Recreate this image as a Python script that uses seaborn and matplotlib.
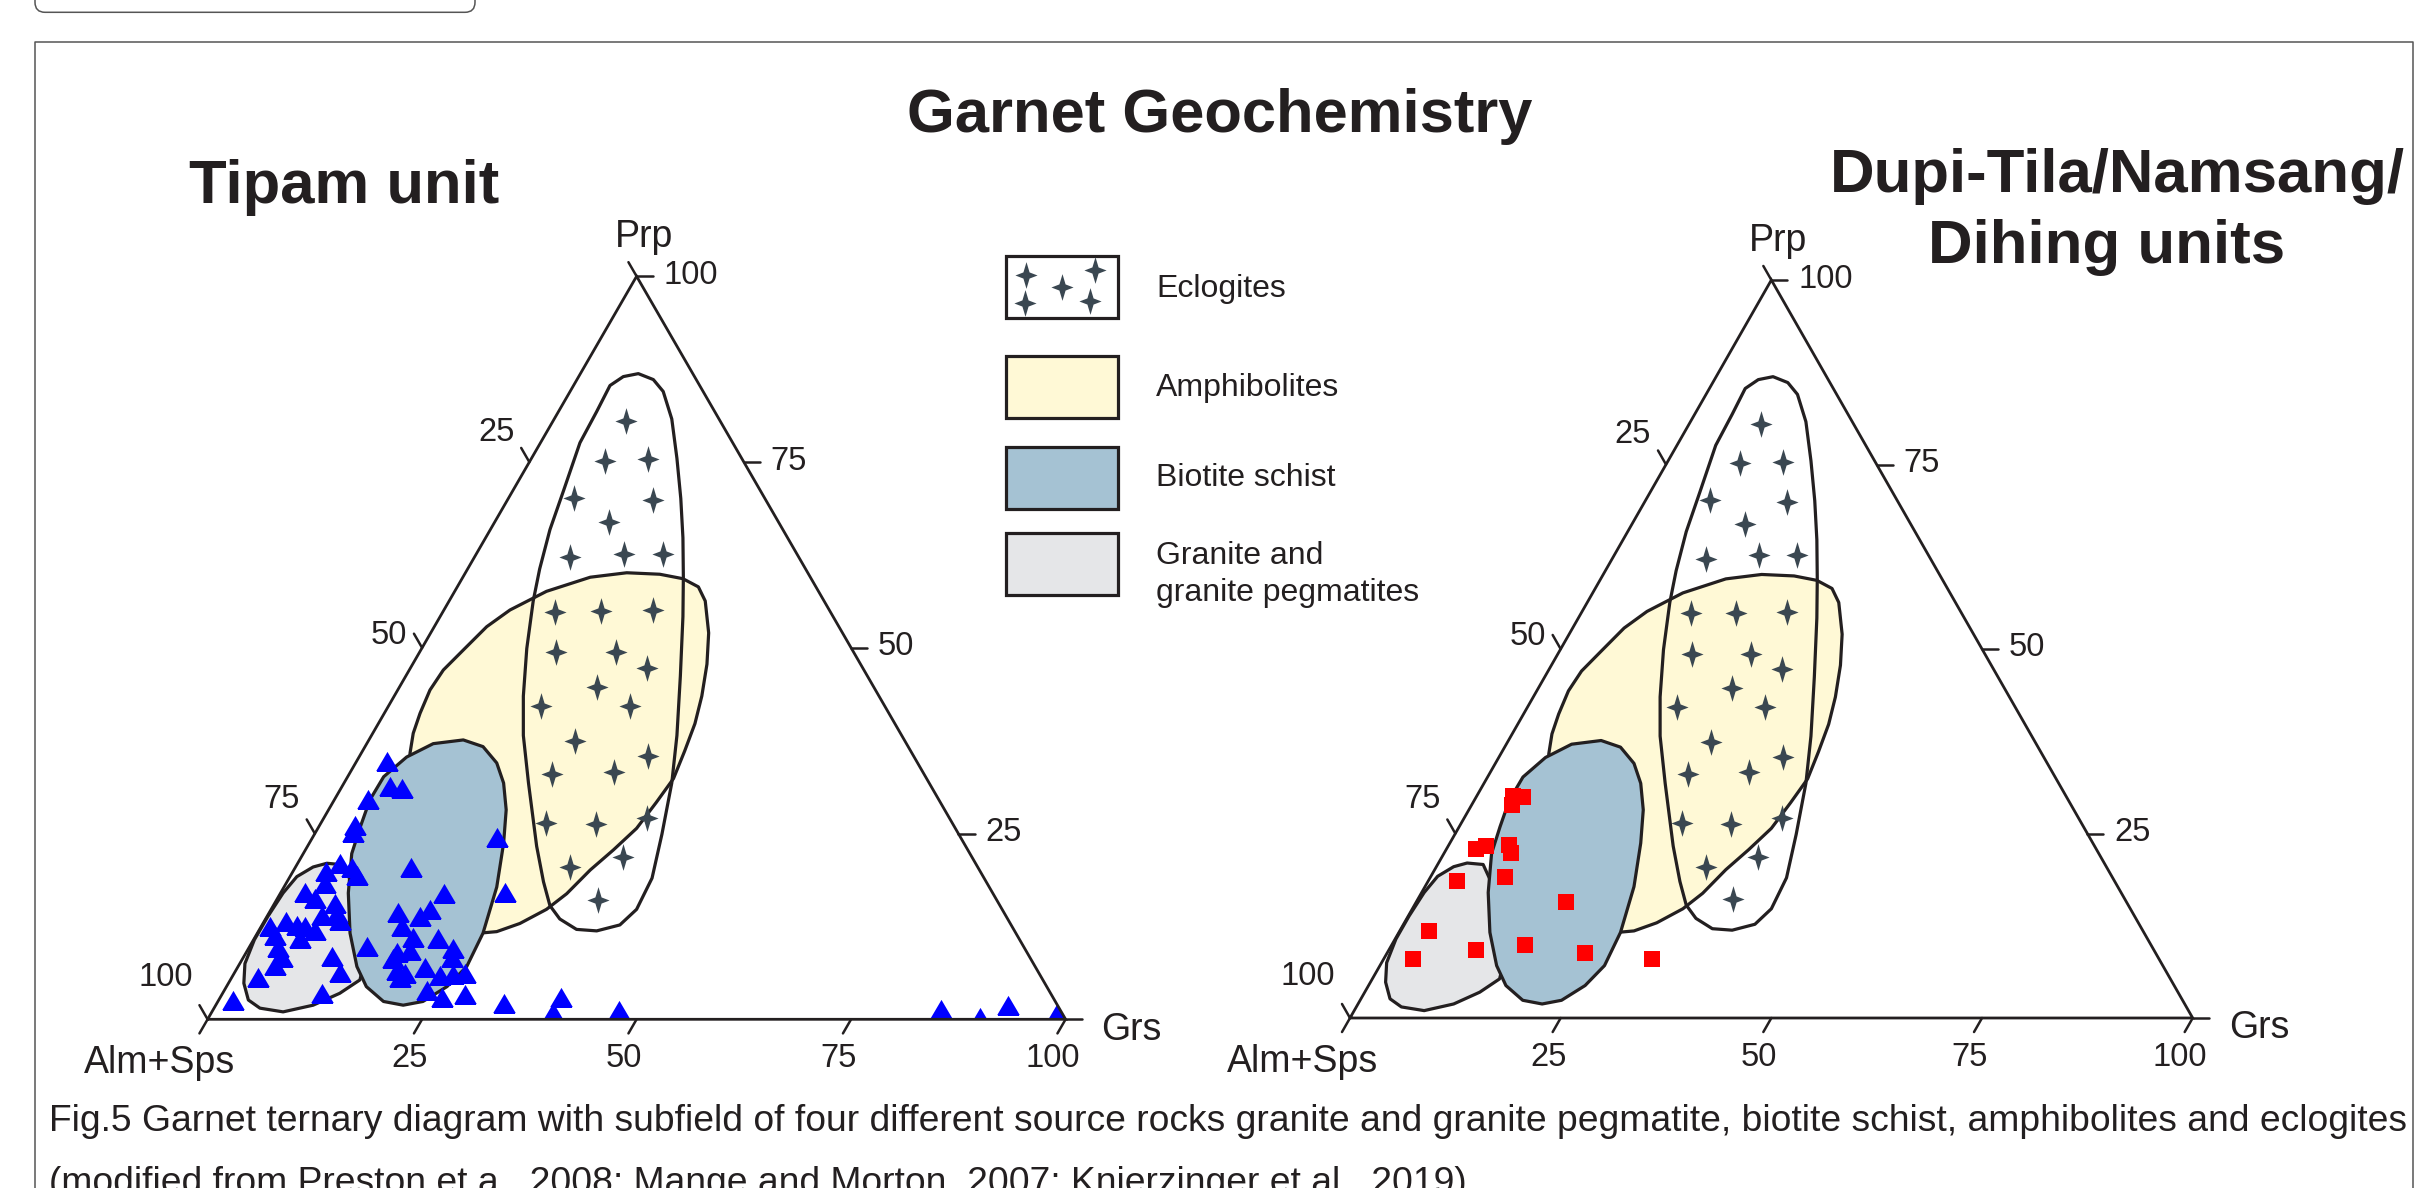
import numpy as np
import pandas as pd
import matplotlib
matplotlib.use("Agg")
import matplotlib.pyplot as plt
import seaborn as sns
from matplotlib.path import Path
from matplotlib.patches import Polygon, Rectangle, FancyBboxPatch

# ---------------- data: ternary compositions in % (Grs, Prp); Alm+Sps = 100 - Grs - Prp ----------------
granite_grs = [3.4, 5.4, 8.1, 12.15, 14.6, 15.1, 13.65, 11.35, 8.3, 5.35, 3.45, 1.8, 0.6, 0.1, 0.1, 0.3, 0.8, 2.05]
granite_prp = [21.0, 20.8, 17.8, 11.6, 7.1, 5.3, 3.5, 1.9, 1.0, 1.5, 2.6, 4.85, 7.5, 10.7, 13.8, 17.0, 19.2, 20.5]

biotite_grs = [11.0, 13.75, 16.45, 18.6, 20.7, 22.65, 24.8, 26.3, 26.65, 25.7, 23.9, 21.85, 19.3, 16.3, 13.85,
               10.8, 7.9, 5.65, 4.85, 4.15, 4.2, 5.55, 7.75]
biotite_prp = [37.6, 36.7, 34.5, 31.8, 28.2, 23.7, 17.8, 11.6, 7.1, 4.4, 2.4, 1.9, 2.4, 4.4, 7.1,
               11.6, 17.0, 22.3, 25.9, 29.5, 32.65, 35.3, 37.1]

amphib_grs = [10.7, 14.85, 18.8, 22.75, 25.75, 28.1, 29.85, 32.4, 34.3, 35.85, 36.9, 37.55, 38.1, 37.7, 37.15,
              35.9, 34.55, 33.4, 32.1, 29.95, 27.8, 25.95, 22.5, 16.6, 10.8, 6.81, 5.69, 4.72, 4.17, 3.76,
              3.97, 4.95, 6.11, 7.7]
amphib_prp = [57.6, 59.5, 60.1, 59.9, 59.3, 58.2, 56.3, 52.0, 47.8, 43.5, 39.8, 36.1, 32.4, 29.2, 25.7,
              22.8, 20.1, 16.9, 14.8, 12.9, 11.8, 11.6, 12.7, 18.7, 26.8, 33.55, 35.8, 38.49, 41.18, 44.32,
              47.01, 49.7, 52.84, 55.09]

eclog_grs = [6.75, 8.9, 10.85, 13.7, 16.95, 20.1, 23.0, 25.7, 28.3, 32.0, 35.6, 38.2, 40.5, 42.3, 42.6, 41.7,
             39.4, 36.95, 34.3, 32.25, 29.9, 26.7, 21.5, 17.7, 15.05, 12.25, 9.8, 8.4, 6.95, 5.9, 4.6, 4.45,
             4.25, 5.2]
eclog_prp = [86.9, 86.1, 84.5, 80.8, 75.5, 70.1, 64.8, 59.5, 54.2, 46.2, 38.2, 31.8, 24.9, 19.0, 14.8, 12.7,
             11.9, 12.1, 13.5, 15.3, 18.5, 23.3, 31.8, 38.2, 43.5, 49.9, 56.3, 60.6, 65.9, 71.2, 77.6, 81.8,
             85.3, 86.5]

# eclogite field pattern (star symbols)
star_grs = [8.48, 8.72, 13.68, 7.67, 16.94, 13.35, 11.11, 17.18, 21.69, 13.08, 18.36, 24.34, 15.92, 22.87,
            27.62, 22.97, 17.72, 28.13, 24.15, 33.67, 23.58, 30.67, 26.24, 32.15, 37.68, 32.0, 37.51, 37.41]
star_prp = [80.5, 75.2, 75.36, 70.13, 69.88, 66.94, 62.26, 62.69, 62.69, 54.82, 54.91, 55.07, 49.38, 49.38,
            47.25, 44.75, 42.19, 42.19, 37.42, 35.38, 33.04, 33.31, 26.39, 26.23, 27.13, 20.48, 21.87, 16.12]

# Tipam unit samples (blue triangles)
tipam_grs = [3.6, 5.56, 7.14, 3.88, 4.1, 4.35, 21.4, 13.5, 4.93, 6.55, 7.68, 3.8, 4.53, 2.75, 4.37, 26.06,
             19.09, 7.05, 7.9, 6.3, 8.73, 14.98, 18.52, 17.81, 1.02, 2.54, 4.03, 5.1, 6.52, 16.37, 2.18, 5.32,
             18.42, 21.39, 13.61, 23.86, 3.35, 17.49, 18.92, 4.43, 10.2, 17.54, 24.24, 4.21, 12.23, 21.8,
             18.72, 19.91, 24.11, 25.59, 26.86, 2.97, 19.55, 23.57, 25.76, 28.3, 11.51, 1.7, 33.44, 39.68,
             39.71, 47.35, 84.84, 89.9, 92.28, 98.65]
tipam_prp = [34.7, 31.4, 31.1, 29.7, 26.15, 25.2, 24.6, 20.5, 21.0, 20.5, 19.4, 19.9, 18.3, 17.2, 16.3, 17.2,
             17.0, 15.6, 14.3, 14.0, 13.4, 14.5, 14.8, 13.9, 12.5, 13.2, 12.7, 12.5, 12.0, 12.5, 11.35, 10.9,
             11.1, 11.0, 9.87, 9.56, 9.77, 9.1, 9.33, 8.43, 8.52, 8.21, 8.43, 7.31, 6.41, 7.08,
             6.64, 6.19, 5.96, 6.1, 6.27, 5.73, 5.73, 3.94, 3.04, 3.41, 3.58, 2.6, 2.13, 2.97,
             1.02, 1.25, 1.35, 0.3, 1.92, 0.81]

# Dupi-Tila / Namsang / Dihing samples (red squares)
dupi_grs = [4.27, 5.49, 4.79, 3.47, 4.49, 7.18, 7.91, 3.36, 8.9, 17.79, 3.46, 10.31, 15.85, 23.52, 31.89, 3.46]
dupi_prp = [30.08, 29.99, 28.86, 22.9, 23.31, 23.44, 22.32, 18.6, 19.07, 15.68, 11.83, 9.21, 9.89, 8.81, 7.95, 7.95]

tick_values = [0, 25, 50, 75, 100]
tick_labels = ["25", "50", "75", "100"]
legend_labels = ["Eclogites", "Amphibolites", "Biotite schist", "Granite and\ngranite pegmatites"]
main_title = "Garnet Geochemistry"
panel_titles = ["Tipam unit", "Dupi-Tila/Namsang/\nDihing units"]
caption_lines = ["Fig.5 Garnet ternary diagram with subfield of four different source rocks granite and granite "
                 "pegmatite, biotite schist, amphibolites and eclogites",
                 "(modified from Preston et a., 2008; Mange and Morton, 2007; Knierzinger et al., 2019)"]

# ---------------- style ----------------
sns.set_theme(style="white")
plt.rcParams['font.family'] = ['Liberation Sans', 'DejaVu Sans']
INK = '#231f20'
C_GRAN = '#e5e6e8'
C_BIO = '#a5c2d3'
C_AMPH = '#fff9d6'
C_STAR = '#3a4751'

W, H, DPI = 2417, 1188, 100
PX = 72.0 / DPI  # points per pixel
fig = plt.figure(figsize=(W / DPI, H / DPI), dpi=DPI)
fig.patch.set_facecolor('white')
renderer = fig.canvas.get_renderer()

SQ3 = np.sqrt(3) / 2
tri_marker = Path([(-1, -0.85), (1, -0.85), (0, 0.85), (-1, -0.85)],
                  [Path.MOVETO, Path.LINETO, Path.LINETO, Path.CLOSEPOLY])
sv = [(0, 1), (0.23, 0.23), (0.83, 0), (0.23, -0.23), (0, -1), (-0.23, -0.23), (-0.83, 0), (-0.23, 0.23), (0, 1)]
star_marker = Path(sv, [Path.MOVETO] + [Path.LINETO] * 7 + [Path.CLOSEPOLY])
STAR_S = 370


def cart(grs, prp):
    g = np.asarray(grs, float)
    p = np.asarray(prp, float)
    return g + p / 2, p * SQ3


def fit_width(t, target_px):
    bb = t.get_window_extent(renderer=renderer)
    t.set_fontsize(t.get_fontsize() * target_px / bb.width)


# ---------------- background / layout axes (pixel coordinates) ----------------
ax0 = fig.add_axes([0, 0, 1, 1])
ax0.set_xlim(0, W)
ax0.set_ylim(H, 0)
ax0.axis('off')

ax0.plot([35, 35, 2413, 2413], [H + 20, 42, 42, H + 20], color='#555555', lw=1.1, clip_on=False)
ax0.add_patch(FancyBboxPatch((35, -80), 440, 92.3, boxstyle='round,pad=0,rounding_size=10',
                             fc='none', ec='#555555', lw=1.1))

t = ax0.text(1220, 132, main_title, ha='center', va='baseline', fontsize=44, fontweight='bold', color=INK)
fit_width(t, 625)
t = ax0.text(344, 203, panel_titles[0], ha='center', va='baseline', fontsize=44, fontweight='bold', color=INK)
fit_width(t, 310)
l1, l2 = panel_titles[1].split('\n')
t1 = ax0.text(2117, 191.7, l1, ha='center', va='baseline', fontsize=44, fontweight='bold', color=INK)
fit_width(t1, 575)
t2 = ax0.text(2107, 263.3, l2, ha='center', va='baseline', fontsize=t1.get_fontsize(),
              fontweight='bold', color=INK)

# legend
legend_faces = ['white', C_AMPH, C_BIO, C_GRAN]
box_tops = [256, 356, 447, 533]
text_baselines = [[296.7], [396.0], [486.0], [564.3, 601.0]]
for lab, fc, top, bls in zip(legend_labels, legend_faces, box_tops, text_baselines):
    ax0.add_patch(Rectangle((1006, top), 112, 62, fc=fc, ec=INK, lw=2.3, zorder=2))
    for line, bl in zip(lab.split('\n'), bls):
        ax0.text(1156, bl, line, ha='left', va='baseline', fontsize=23, color=INK)
ax0.scatter([1026, 1061.7, 1095, 1025, 1090], [275, 287.3, 270, 303.3, 300.7], marker=star_marker,
            s=STAR_S, color=C_STAR, linewidths=0, zorder=3)

# caption
c1 = ax0.text(49, 1131, caption_lines[0], ha='left', va='baseline', fontsize=23, color=INK)
fit_width(c1, 2358)
ax0.text(49, 1193, caption_lines[1], ha='left', va='baseline', fontsize=c1.get_fontsize(), color=INK)


# ---------------- ternary panels ----------------
def ternary_panel(px_box, pts_grs, pts_prp, marker, color, size):
    x0, x1, ytop, ybot = px_box
    ax = fig.add_axes([x0 / W, 1 - ybot / H, (x1 - x0) / W, (ybot - ytop) / H])
    ax.set_xlim(0, 100)
    ax.set_ylim(0, 100 * SQ3)
    ax.axis('off')
    ax.patch.set_alpha(0)

    # fields
    for g, p, fc, z in [(granite_grs, granite_prp, C_GRAN, 2), (amphib_grs, amphib_prp, C_AMPH, 3),
                        (eclog_grs, eclog_prp, 'none', 4), (biotite_grs, biotite_prp, C_BIO, 6)]:
        xs, ys = cart(g, p)
        ax.add_patch(Polygon(np.column_stack([xs, ys]), closed=True, fc=fc, ec=INK, lw=2.3,
                             joinstyle='round', zorder=z))
    sx, sy = cart(star_grs, star_prp)
    ax.scatter(sx, sy, marker=star_marker, s=STAR_S, color=C_STAR, linewidths=0, zorder=5)

    # samples
    dx, dy = cart(pts_grs, pts_prp)
    df = pd.DataFrame({'x': dx, 'y': dy})
    sns.scatterplot(data=df, x='x', y='y', marker=marker, color=color, s=size, linewidth=0,
                    ax=ax, zorder=8, legend=False)
    clip = Polygon([(0, 0), (100, 0), (50, 100 * SQ3)], closed=True, transform=ax.transData)
    ax.collections[-1].set_clip_path(clip)
    ax.set_xlim(0, 100)
    ax.set_ylim(0, 100 * SQ3)
    ax.axis('off')

    # frame
    ax.plot([0, 100, 50, 0], [0, 0, 100 * SQ3, 0], color=INK, lw=2.0, clip_on=False, zorder=9,
            solid_joinstyle='miter')
    L = 1.9
    for v in tick_values:
        # bottom (Grs)
        ax.plot([v, v - 0.5 * L], [0, -SQ3 * L], color=INK, lw=1.8, clip_on=False, zorder=9)
        # left (Alm+Sps)
        lx, ly = cart(0, 100 - v)
        ax.plot([lx, lx - 0.5 * L], [ly, ly + SQ3 * L], color=INK, lw=1.8, clip_on=False, zorder=9)
        # right (Prp)
        rx, ry = cart(100 - v, v)
        ax.plot([rx, rx + L], [ry, ry], color=INK, lw=1.8, clip_on=False, zorder=9)

    left_dy = {"25": -29.6, "50": -12.8, "75": -34.0, "100": -41.6}
    for lab in tick_labels:
        v = float(lab)
        ax.annotate(lab, (v, 0), xytext=(-12.5 * PX, -39 * PX), textcoords='offset points',
                    ha='center', va='center', fontsize=23.5, color=INK, annotation_clip=False)
        lx, ly = cart(0, 100 - v)
        ax.annotate(lab, (lx, ly), xytext=(-15 * PX, -left_dy[lab] * PX), textcoords='offset points',
                    ha='right', va='center', fontsize=23.5, color=INK, annotation_clip=False)
        rx, ry = cart(100 - v, v)
        ax.annotate(lab, (rx, ry), xytext=(27 * PX, 1 * PX), textcoords='offset points',
                    ha='left', va='center', fontsize=23.5, color=INK, annotation_clip=False)

    ax.annotate("Prp", (50, 100 * SQ3), xytext=(7 * PX, 29 * PX), textcoords='offset points',
                ha='center', va='baseline', fontsize=27, color=INK, annotation_clip=False)
    ax.annotate("Alm+Sps", (0, 0), xytext=(-47.6 * PX, -54 * PX), textcoords='offset points',
                ha='center', va='baseline', fontsize=27, color=INK, annotation_clip=False)
    ax.annotate("Grs", (100, 0), xytext=(36 * PX, -20.5 * PX), textcoords='offset points',
                ha='left', va='baseline', fontsize=27, color=INK, annotation_clip=False)
    return ax


ternary_panel((207.6, 1065.6, 276.3, 1019.3), tipam_grs, tipam_prp, tri_marker, '#0000ff', 265)
ternary_panel((1350.0, 2192.7, 280.0, 1018.0), dupi_grs, dupi_prp, 's', '#ff0000', 125)

fig.savefig('out.png', dpi=DPI, facecolor='white')
